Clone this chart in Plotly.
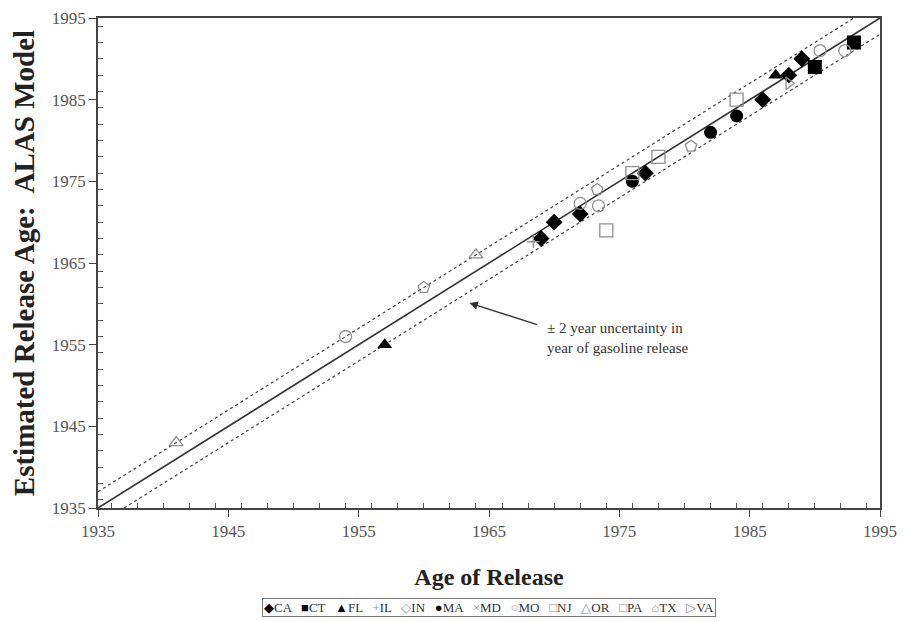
import plotly.graph_objects as go

# ---- data ----
ca_x = [1969, 1970, 1972, 1977, 1986, 1988, 1989]
ca_y = [1968, 1970, 1971, 1976, 1985, 1988, 1990]
ct_x = [1990, 1993]
ct_y = [1989, 1992]
fl_x = [1957, 1987]
fl_y = [1955, 1988]
il_x = [1968.4]
il_y = [1967.6]
in_x = []
in_y = []
ma_x = [1976, 1982, 1984]
ma_y = [1975, 1981, 1983]
md_x = []
md_y = []
mo_x = [1954, 1972, 1973.4, 1990.4, 1992.3]
mo_y = [1956, 1972.3, 1972, 1991, 1991]
nj_x = [1974, 1976, 1978]
nj_y = [1969, 1976, 1978]
or_x = [1941, 1964]
or_y = [1943, 1966]
pa_x = [1984]
pa_y = [1985]
tx_x = [1960, 1973.3, 1980.5]
tx_y = [1962, 1974, 1979.3]
va_x = [1988]
va_y = [1987]

states = ["CA", "CT", "FL", "IL", "IN", "MA", "MD", "MO", "NJ", "OR", "PA", "TX", "VA"]
legend_chars = ["◆", "■", "▲", "+", "◇", "●", "×", "○", "□", "△", "□", "⌂", "▷"]

line_range = [1935, 1995]
uncertainty = 2
tick_vals = [1935, 1945, 1955, 1965, 1975, 1985, 1995]

FILLED = "#000000"
OPEN = "#8f8f8f"
SERIF = "Liberation Serif, Times New Roman, serif"

series = [
    ("CA", ca_x, ca_y, "diamond", FILLED, 13),
    ("CT", ct_x, ct_y, "square", FILLED, 14),
    ("FL", fl_x, fl_y, "triangle-up", FILLED, 13),
    ("IL", il_x, il_y, "cross-thin-open", OPEN, 9),
    ("IN", in_x, in_y, "diamond-open", OPEN, 11),
    ("MA", ma_x, ma_y, "circle", FILLED, 13),
    ("MD", md_x, md_y, "x-thin-open", OPEN, 9),
    ("MO", mo_x, mo_y, "circle-open", OPEN, 12),
    ("NJ", nj_x, nj_y, "square-open", OPEN, 13),
    ("OR", or_x, or_y, "triangle-up-open", OPEN, 12),
    ("PA", pa_x, pa_y, "square-open", OPEN, 13),
    ("TX", tx_x, tx_y, "pentagon-open", OPEN, 12),
    ("VA", va_x, va_y, "triangle-right-open", OPEN, 11),
]

fig = go.Figure()

# 1:1 line and +/- uncertainty lines
fig.add_trace(go.Scatter(x=line_range, y=line_range, mode="lines",
                         line=dict(color="#333333", width=1.6), showlegend=False, hoverinfo="skip"))
fig.add_trace(go.Scatter(x=[line_range[0], line_range[1] - uncertainty],
                         y=[line_range[0] + uncertainty, line_range[1]], mode="lines",
                         line=dict(color="#444444", width=1.2, dash="dot"), showlegend=False, hoverinfo="skip"))
fig.add_trace(go.Scatter(x=[line_range[0] + uncertainty, line_range[1]],
                         y=[line_range[0], line_range[1] - uncertainty], mode="lines",
                         line=dict(color="#444444", width=1.2, dash="dot"), showlegend=False, hoverinfo="skip"))

for name, xs, ys, sym, col, size in series:
    is_open = sym.endswith("-open")
    fig.add_trace(go.Scatter(
        x=xs, y=ys, mode="markers", name=name, showlegend=False,
        marker=dict(symbol=sym, size=size, color=col,
                    line=dict(color=col, width=1.3 if is_open else 0)),
    ))

axis_common = dict(
    range=line_range, tickvals=tick_vals, ticks="outside", ticklen=7, tickwidth=1.3,
    tickcolor="#444444", showline=True, linecolor="#444444", linewidth=1.5, mirror=True,
    showgrid=False, zeroline=False, automargin=False,
    tickfont=dict(family=SERIF, size=17, color="#555555"),
    minor=dict(dtick=2, ticks="inside", ticklen=5, tickcolor="#555555", tickwidth=1, showgrid=False),
)

fig.update_xaxes(**axis_common,
                 title=dict(text="Age of Release", standoff=28,
                            font=dict(family=SERIF, size=24, color="#222222", weight="bold")))
fig.update_yaxes(**axis_common,
                 title=dict(text="Estimated Release Age:  ALAS Model", standoff=22,
                            font=dict(family=SERIF, size=29, color="#222222", weight="bold")))

# arrow + text annotation
fig.add_annotation(x=1963.5, y=1960.1, ax=1968.8, ay=1957.4, axref="x", ayref="y",
                   xref="x", yref="y", text="", showarrow=True, arrowhead=2, arrowsize=1.2,
                   arrowwidth=1.4, arrowcolor="#333333")
fig.add_annotation(x=1969.3, y=1955.8, xref="x", yref="y", xanchor="left", yanchor="middle",
                   align="left", showarrow=False,
                   text="± 2 year uncertainty in<br>year of gasoline release",
                   font=dict(family=SERIF, size=15, color="#333333"))

# legend row (boxed, below the axis title)
legend_parts = []
for st, ch, (_, _, _, sym, col, _) in zip(states, legend_chars, series):
    legend_parts.append(f"<span style='color:{col}'>{ch}</span>{st}")
legend_text = "   ".join(legend_parts)
fig.add_annotation(x=0.5, y=-0.204, xref="paper", yref="paper", xanchor="center", yanchor="middle",
                   showarrow=False, text=legend_text,
                   font=dict(family=SERIF, size=13, color="#333333"),
                   bordercolor="#777777", borderwidth=1, borderpad=1)

fig.update_layout(
    width=906, height=621, autosize=False,
    margin=dict(l=90, r=34, t=10, b=121),
    plot_bgcolor="white", paper_bgcolor="white",
    showlegend=False,
)

fig.write_html("out.html")
